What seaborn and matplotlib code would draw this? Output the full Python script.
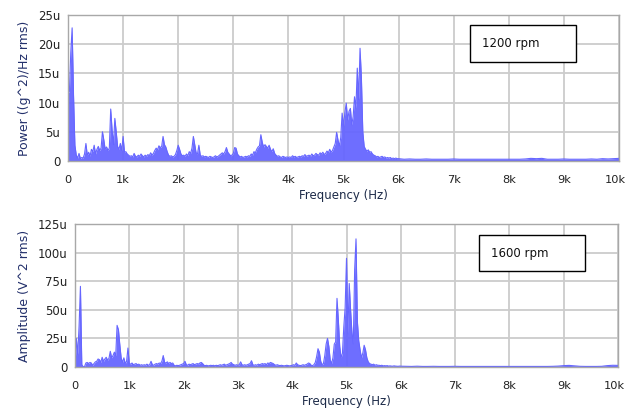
import numpy as np
import matplotlib
matplotlib.use("Agg")
import matplotlib.pyplot as plt
import matplotlib.patches as mpatches
import matplotlib.transforms as mtransforms
from matplotlib.ticker import FuncFormatter
import seaborn as sns

# ---------- data (units of u = 1e-6) ----------
# fine bins 0..6 kHz every 25 Hz, coarse bins 6.1..10 kHz every 100 Hz
freq_fine = np.arange(0, 6001, 25)
freq_coarse = np.arange(6100, 10001, 100)

psd_1200_fine = [
    11.8, 11.8, 18.5, 22.8, 11.3, 2.7, 1.0, 0.5, 1.3, 0.4,      # 0-225
    0.6, 0.5, 1.2, 3.0, 1.0, 1.5, 0.8, 2.0, 1.6, 2.7,           # 250-475
    1.2, 2.0, 2.5, 1.8, 2.2, 5.0, 3.6, 2.0, 2.4, 1.8,           # 500-725
    2.2, 8.9, 5.3, 2.8, 7.3, 5.0, 2.5, 2.0, 3.0, 1.8,           # 750-975
    4.2, 1.5, 1.6, 1.2, 1.0, 0.8, 0.9, 0.7, 1.3, 0.8,           # 1000-1225
    0.7, 1.0, 0.8, 1.2, 0.9, 0.7, 1.0, 0.8, 1.1, 0.9,           # 1250-1475
    1.4, 1.0, 1.3, 1.8, 2.2, 1.9, 2.6, 2.3, 2.5, 4.2,           # 1500-1725
    2.8, 2.4, 1.6, 1.0, 0.8, 0.9, 0.7, 0.8, 1.1, 1.8,           # 1750-1975
    2.7, 2.0, 1.2, 0.9, 1.0, 0.8, 1.2, 0.9, 1.6, 1.3,           # 2000-2225
    2.2, 4.2, 2.8, 1.4, 1.2, 2.7, 1.0, 0.8, 0.9, 0.7,           # 2250-2475
    0.8, 0.7, 0.6, 0.8, 0.7, 0.6, 0.7, 0.9, 0.7, 0.8,           # 2500-2725
    1.0, 1.2, 1.4, 1.2, 1.6, 2.3, 1.5, 1.2, 0.9, 1.0,           # 2750-2975
    1.3, 2.3, 2.2, 1.2, 0.9, 0.7, 0.8, 0.6, 0.7, 0.8,           # 3000-3225
    0.7, 0.9, 0.8, 1.2, 1.0, 1.6, 1.4, 2.0, 2.4, 2.6,           # 3250-3475
    4.5, 3.2, 2.4, 2.8, 2.5, 2.2, 2.7, 2.0, 1.6, 2.1,           # 3500-3725
    1.3, 1.0, 0.8, 0.9, 0.7, 0.6, 0.8, 0.7, 0.6, 0.7,           # 3750-3975
    0.6, 0.7, 0.6, 0.9, 0.7, 0.8, 0.6, 0.7, 0.8, 0.7,           # 4000-4225
    0.9, 0.8, 1.1, 0.8, 0.9, 1.0, 0.8, 1.2, 0.9, 1.0,           # 4250-4475
    1.3, 1.1, 1.0, 1.4, 1.2, 1.5, 1.1, 1.3, 1.7, 1.4,           # 4500-4725
    2.0, 1.5, 1.8, 2.4, 3.0, 4.9, 3.6, 2.5, 4.0, 8.2,           # 4750-4975
    6.0, 8.3, 9.9, 7.0, 8.5, 9.0, 6.2, 7.6, 11.0, 9.0,          # 5000-5225
    15.9, 10.5, 19.3, 14.2, 5.0, 2.5, 2.0, 1.7, 1.9, 1.5,       # 5250-5475
    1.6, 1.2, 1.0, 0.9, 0.7, 0.8, 0.6, 0.7, 0.8, 0.6,           # 5500-5725
    0.7, 0.5, 0.6, 0.5, 0.6, 0.4, 0.5, 0.4, 0.5, 0.4,           # 5750-5975
    0.4,                                                        # 6000
]
psd_1200_coarse = [
    0.3, 0.35, 0.3, 0.3, 0.35, 0.3, 0.3, 0.3, 0.3, 0.35,        # 6.1-7.0k
    0.3, 0.3, 0.3, 0.3, 0.3, 0.3, 0.3, 0.3, 0.3, 0.3,           # 7.1-8.0k
    0.3, 0.3, 0.35, 0.45, 0.4, 0.45, 0.3, 0.3, 0.3, 0.35,       # 8.1-9.0k
    0.3, 0.3, 0.3, 0.3, 0.35, 0.3, 0.4, 0.35, 0.4, 0.45,        # 9.1-10k
]

amp_1600_fine = [
    0.5, 25.0, 11.0, 35.5, 70.5, 2.0, 0.3, 0.3, 3.5, 4.0,       # 0-225
    3.0, 4.0, 3.5, 1.5, 3.0, 4.5, 5.0, 7.0, 6.4, 4.0,           # 250-475
    8.5, 5.0, 7.0, 8.5, 6.0, 7.5, 13.7, 8.0, 10.0, 13.0,        # 500-725
    10.0, 36.4, 32.6, 19.5, 7.9, 4.0, 8.0, 3.0, 5.0, 16.6,      # 750-975
    3.0, 2.5, 3.5, 2.0, 2.5, 3.0, 2.0, 2.5, 1.5, 2.0,           # 1000-1225
    1.5, 2.0, 1.5, 2.5, 1.5, 2.0, 5.0, 2.0, 1.5, 2.5,           # 1250-1475
    3.0, 2.5, 3.5, 3.0, 5.0, 10.0, 4.0, 3.5, 4.5, 3.0,          # 1500-1725
    4.0, 3.0, 3.5, 1.5, 1.0, 1.5, 1.2, 1.5, 2.0, 2.5,           # 1750-1975
    3.0, 5.0, 2.0, 1.5, 2.5, 2.0, 2.5, 3.0, 2.0, 2.5,           # 2000-2225
    3.0, 2.5, 3.5, 4.0, 3.0, 1.5, 1.2, 1.5, 1.0, 1.2,           # 2250-2475
    1.5, 1.2, 1.5, 1.0, 1.5, 1.2, 1.5, 2.0, 1.5, 2.0,           # 2500-2725
    2.5, 1.5, 2.0, 2.5, 3.0, 4.0, 2.5, 2.0, 1.5, 2.0,           # 2750-2975
    1.5, 2.0, 4.5, 2.0, 1.5, 2.0, 1.5, 2.0, 2.5, 3.0,           # 3000-3225
    5.5, 2.0, 1.5, 2.0, 1.5, 2.5, 2.0, 2.5, 3.0, 2.5,           # 3250-3475
    3.0, 2.0, 3.5, 3.0, 4.0, 3.5, 3.0, 2.0, 1.5, 2.0,           # 3500-3725
    1.5, 1.2, 1.5, 1.2, 1.0, 1.2, 1.5, 1.2, 1.0, 1.2,           # 3750-3975
    1.5, 2.0, 1.5, 3.5, 2.0, 1.5, 1.2, 1.5, 2.0, 1.5,           # 4000-4225
    2.0, 2.5, 3.5, 3.0, 1.5, 1.2, 2.0, 4.0, 9.0, 16.0,          # 4250-4475
    13.0, 5.0, 2.0, 3.0, 10.0, 20.0, 25.0, 18.0, 6.0, 3.0,      # 4500-4725
    8.0, 20.0, 22.0, 60.0, 41.0, 18.0, 8.0, 12.0, 35.0, 52.0,   # 4750-4975
    95.0, 29.0, 73.0, 50.0, 30.0, 20.0, 85.0, 112.0, 40.0, 23.0,  # 5000-5225
    15.0, 8.0, 12.0, 19.0, 15.0, 8.0, 4.5, 3.0, 2.5, 2.0,       # 5250-5475
    2.5, 1.5, 2.0, 1.5, 1.5, 1.2, 1.5, 1.0, 1.2, 1.0,           # 5500-5725
    1.2, 0.8, 1.0, 0.8, 0.7, 1.0, 0.8, 0.7, 0.6, 0.8,           # 5750-5975
    0.7,                                                        # 6000
]
amp_1600_coarse = [
    0.6, 0.5, 0.7, 0.5, 0.5, 0.6, 0.5, 0.5, 0.5, 0.6,           # 6.1-7.0k
    0.5, 0.5, 0.5, 0.5, 0.5, 0.5, 0.5, 0.5, 0.5, 0.5,           # 7.1-8.0k
    0.5, 0.5, 0.5, 0.5, 0.5, 0.5, 0.5, 0.6, 0.8, 1.2,           # 8.1-9.0k
    1.4, 1.0, 0.6, 0.5, 0.5, 0.5, 0.6, 1.2, 1.5, 1.4,           # 9.1-10k
]

panels = [
    ("1200 rpm", "Power ((g^2)/Hz rms)", psd_1200_fine + psd_1200_coarse, 25, 5),
    ("1600 rpm", "Amplitude (V^2 rms)", amp_1600_fine + amp_1600_coarse, 125, 25),
]
freq = np.concatenate([freq_fine, freq_coarse])

# ---------- style ----------
sns.set_theme(style="whitegrid")
plt.rcParams.update({
    "font.family": ["DejaVu Sans"],
    "font.size": 8.5,
    "axes.labelsize": 8.5,
    "xtick.labelsize": 8.2,
    "ytick.labelsize": 8.5,
})
LINE = "#6666ff"
GRID = "#cccccc"

fig = plt.figure(figsize=(6.28, 4.16), dpi=100)
axes_rects = [
    [68 / 628, 1 - 161 / 416, 551 / 628, 146 / 416],
    [75 / 628, 1 - 367 / 416, 543 / 628, 143 / 416],
]
box_rects = [(0.730, 0.678, 0.192, 0.253), (0.744, 0.671, 0.195, 0.252)]

for rect, (label, ylab, vals, ymax, ystep), brect in zip(axes_rects, panels, box_rects):
    ax = fig.add_axes(rect)
    sns.lineplot(x=freq, y=vals, ax=ax, color=LINE, linewidth=0.8)
    ax.fill_between(freq, vals, 0, color=LINE, linewidth=0, alpha=0.95)

    ax.set_xlim(0, 10000)
    ax.set_ylim(0, ymax)
    ax.set_xticks(np.arange(0, 10001, 1000))
    ax.set_yticks(np.arange(0, ymax + 1, ystep))
    ax.xaxis.set_major_formatter(FuncFormatter(lambda v, p: "0" if v == 0 else f"{int(v / 1000)}k"))
    ax.yaxis.set_major_formatter(FuncFormatter(lambda v, p: "0" if v == 0 else f"{int(v)}u"))

    ax.grid(True, color=GRID, linewidth=1.3)
    ax.set_axisbelow(True)
    for s in ax.spines.values():
        s.set_visible(True)
        s.set_color("#a8a8a8")
        s.set_linewidth(1.0)
    ax.tick_params(axis="both", which="major", length=4, width=0.8,
                   color="#333333", labelcolor="#222222", direction="out")
    ax.tick_params(axis="x", pad=6)
    ax.tick_params(axis="y", pad=1.5)

    # nudge the "10k" label inward so it stays inside the figure
    last = ax.xaxis.get_major_ticks()[-1].label1
    last.set_transform(last.get_transform()
                       + mtransforms.ScaledTranslation(-4 / 100, 0, fig.dpi_scale_trans))

    ax.set_xlabel("Frequency (Hz)", color="#1c2a48", labelpad=3)
    ax.set_ylabel(ylab, color="#23306b", labelpad=5, fontsize=9)

    ax.add_patch(mpatches.Rectangle((brect[0], brect[1]), brect[2], brect[3],
                                    transform=ax.transAxes, facecolor="white",
                                    edgecolor="black", linewidth=1.0, zorder=5))
    ax.text(brect[0] + 0.022, brect[1] + brect[3] / 2, label, transform=ax.transAxes,
            ha="left", va="center", fontsize=8.5, color="#111111", zorder=6)

fig.savefig("out.png", dpi=100)
